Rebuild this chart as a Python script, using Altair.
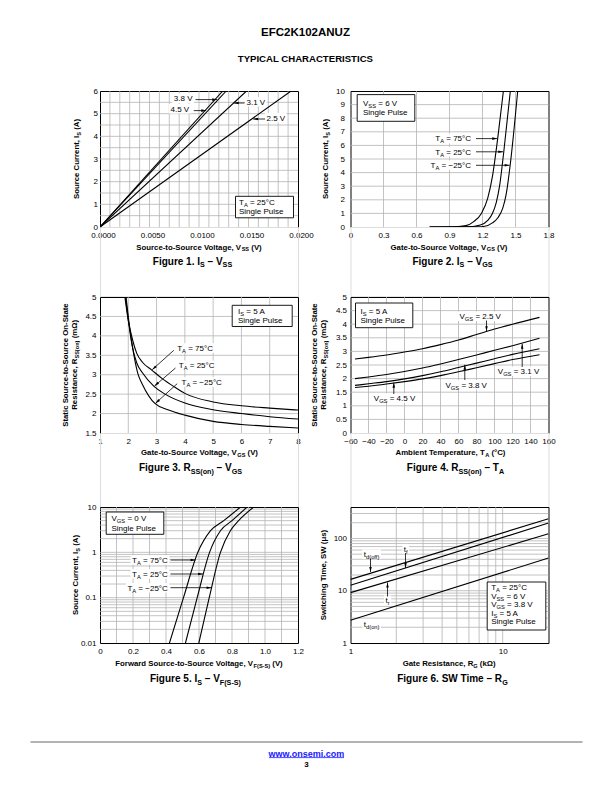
import math
import altair as alt
import pandas as pd

FONT = "Liberation Sans"
PW, PH = 198, 136
GRID = "#b4b4b4"

# ---------------- Figure 1: I_S vs V_SS ----------------
F1_IS = [0.0, 6.0]
F1_VSS_45 = [0.0, 0.0124]
F1_VSS_38 = [0.0, 0.01275]
F1_VSS_31 = [0.0, 0.0148]
F1_VSS_25 = [0.0, 0.0193]
F1_XTICKS = [0, 0.005, 0.01, 0.015, 0.02]
F1_YTICKS = [0, 1, 2, 3, 4, 5, 6]
F1_XGRID = [0.001, 0.002, 0.003, 0.004, 0.005, 0.006, 0.007, 0.008, 0.009, 0.010,
            0.011, 0.012, 0.013, 0.014, 0.015, 0.016, 0.017, 0.018, 0.019]
F1_YGRID = [0.5, 1, 1.5, 2, 2.5, 3, 3.5, 4, 4.5, 5, 5.5]

# ---------------- Figure 2: I_S vs V_GS ----------------
F2_V_75 = [0.72, 0.95, 1.05, 1.12, 1.19, 1.247, 1.292, 1.338, 1.39]
F2_I_75 = [0.0, 0.02, 0.1, 0.4, 1.0, 2.1, 3.8, 6.5, 10.0]
F2_V_25 = [0.72, 1.05, 1.18, 1.25, 1.29, 1.325, 1.355, 1.393, 1.453]
F2_I_25 = [0.0, 0.01, 0.15, 0.5, 1.0, 1.8, 3.0, 5.5, 10.0]
F2_V_M25 = [0.72, 1.15, 1.22, 1.29, 1.338, 1.385, 1.415, 1.451, 1.52]
F2_I_M25 = [0.0, 0.01, 0.05, 0.3, 0.66, 1.4, 2.4, 4.5, 10.0]
F2_XTICKS = [0, 0.3, 0.6, 0.9, 1.2, 1.5, 1.8]
F2_YTICKS = [0, 1, 2, 3, 4, 5, 6, 7, 8, 9, 10]
F2_XGRID = [0.3, 0.6, 0.9, 1.2, 1.5]
F2_YGRID = [1, 2, 3, 4, 5, 6, 7, 8, 9]

# ---------------- Figure 3: R_SS(on) vs V_GS ----------------
F3_V_75 = [1.88, 2.0, 2.15, 2.3, 2.5, 2.83, 3.2, 3.6, 4.0, 5.0, 6.0, 7.0, 8.0]
F3_R_75 = [5.0, 4.4, 3.9, 3.55, 3.32, 3.12, 2.9, 2.7, 2.52, 2.3, 2.2, 2.14, 2.09]
F3_V_25 = [1.9, 2.02, 2.15, 2.3, 2.5, 2.91, 3.3, 4.0, 5.0, 6.0, 7.0, 8.0]
F3_R_25 = [5.0, 4.3, 3.7, 3.3, 3.05, 2.70, 2.5, 2.27, 2.1, 2.0, 1.92, 1.86]
F3_V_M25 = [1.92, 2.05, 2.2, 2.35, 2.5, 2.94, 3.4, 4.0, 5.0, 6.0, 7.0, 8.0]
F3_R_M25 = [5.0, 4.2, 3.5, 3.0, 2.75, 2.26, 2.1, 1.96, 1.8, 1.72, 1.67, 1.63]
F3_XTICKS = [1, 2, 3, 4, 5, 6, 7, 8]
F3_YTICKS = [1.5, 2, 2.5, 3, 3.5, 4, 4.5, 5]
F3_XGRID = [2, 3, 4, 5, 6, 7]
F3_YGRID = [2, 2.5, 3, 3.5, 4, 4.5]

# ---------------- Figure 4: R_SS(on) vs T_A ----------------
F4_TA = [-55, -40, -20, 0, 20, 40, 60, 80, 100, 120, 150]
F4_R_25 = [2.72, 2.78, 2.87, 2.98, 3.10, 3.25, 3.42, 3.62, 3.82, 4.00, 4.25]
F4_R_31 = [2.00, 2.06, 2.15, 2.26, 2.39, 2.54, 2.70, 2.87, 3.04, 3.21, 3.48]
F4_R_38 = [1.75, 1.81, 1.89, 1.99, 2.11, 2.25, 2.41, 2.57, 2.73, 2.89, 3.10]
F4_R_45 = [1.67, 1.72, 1.80, 1.89, 1.99, 2.11, 2.25, 2.40, 2.55, 2.70, 2.88]
F4_XTICKS = [-60, -40, -20, 0, 20, 40, 60, 80, 100, 120, 140, 160]
F4_YTICKS = [0, 0.5, 1, 1.5, 2, 2.5, 3, 3.5, 4, 4.5, 5]
F4_XGRID = [-40, -20, 0, 20, 40, 60, 80, 100, 120, 140]
F4_YGRID = [0.5, 1, 1.5, 2, 2.5, 3, 3.5, 4, 4.5]

# ---------------- Figure 5: I_S vs V_F(S-S) ----------------
F5_I = [0.01, 0.1, 1.0, 3.0, 5.0, 10.0]
F5_V_75 = [0.421, 0.506, 0.593, 0.67, 0.75, 0.852]
F5_V_25 = [0.518, 0.589, 0.664, 0.73, 0.80, 0.892]
F5_V_M25 = [0.599, 0.662, 0.73, 0.79, 0.84, 0.932]
F5_XTICKS = [0, 0.2, 0.4, 0.6, 0.8, 1.0, 1.2]
F5_YTICKS = [0.01, 0.1, 1, 10]
F5_XGRID = [0.1, 0.2, 0.3, 0.4, 0.5, 0.6, 0.7, 0.8, 0.9, 1.0, 1.1]
F5_YGRID = [0.02, 0.03, 0.04, 0.05, 0.06, 0.07, 0.08, 0.09, 0.1,
            0.2, 0.3, 0.4, 0.5, 0.6, 0.7, 0.8, 0.9, 1,
            2, 3, 4, 5, 6, 7, 8, 9]

# ---------------- Figure 6: switching time vs R_G ----------------
F6_RG = [1.0, 20.0]
F6_TDOFF = [16.5, 238.0]
F6_TF = [12.7, 197.0]
F6_TR = [9.2, 123.0]
F6_TDON = [2.72, 42.2]
F6_XTICKS = [1, 10]
F6_YTICKS = [1, 10, 100]
F6_XGRID = [2, 3, 4, 5, 6, 7, 8, 9, 10]
F6_YGRID = [2, 3, 4, 5, 6, 7, 8, 9, 10, 20, 30, 40, 50, 60, 70, 80, 90, 100, 200, 300]

# label expressions
PLAIN = "replace('' + datum.value, '-', '−')"
ONE_DEC = "datum.value == 0 ? '0' : format(datum.value, '.1f')"
FOUR_DEC = "format(datum.value, '.4f')"

# ---------------- text metrics (Helvetica / Arial advance widths) ----------------
_UP = "ABCDEFGHIJKLMNOPQRSTUVWXYZ"
_LO = "abcdefghijklmnopqrstuvwxyz"
REG = dict(zip(_UP, [667, 667, 722, 722, 667, 611, 778, 722, 278, 500, 667, 556, 833, 722, 778, 667, 778, 722, 667, 611, 722, 667, 944, 667, 667, 611]))
REG.update(zip(_LO, [556, 556, 500, 556, 556, 278, 556, 556, 222, 222, 500, 222, 833, 556, 556, 556, 556, 333, 500, 278, 556, 500, 722, 500, 500, 500]))
REG.update({" ": 278, ",": 278, "-": 333, ".": 278, "(": 333, ")": 333, "=": 584, "°": 400, "–": 556, "−": 584, "Ω": 768, "μ": 576, ":": 278})
BOLD = dict(zip(_UP, [722, 722, 722, 722, 667, 611, 778, 722, 278, 556, 722, 611, 833, 722, 778, 667, 778, 722, 667, 611, 722, 667, 944, 667, 667, 611]))
BOLD.update(zip(_LO, [556, 611, 556, 611, 556, 333, 611, 611, 278, 278, 556, 278, 889, 611, 611, 611, 611, 389, 556, 333, 611, 556, 778, 556, 556, 500]))
BOLD.update({" ": 278, ",": 278, "-": 333, ".": 278, "(": 333, ")": 333, "=": 584, "°": 400, "–": 556, "−": 584, "Ω": 768, "μ": 611, ":": 333})


def tw(s, size, bold):
    t = BOLD if bold else REG
    return sum(t.get(c, 556) for c in s) * size / 1000.0


def parse(s):
    parts, buf, i = [], "", 0
    while i < len(s):
        if s.startswith("_{", i):
            if buf:
                parts.append((buf, False))
                buf = ""
            j = s.index("}", i)
            parts.append((s[i + 2:j], True))
            i = j + 1
        else:
            buf += s[i]
            i += 1
    if buf:
        parts.append((buf, False))
    return parts


def rich(s, x, y, size, bold, anchor, vertical, color):
    segs, pos = [], 0.0
    for t, sub in parse(s):
        sz = size * 0.72 if sub else size
        stripped = t.lstrip(" ")
        start = pos + tw(t[: len(t) - len(stripped)], sz, bold)
        txt = stripped.rstrip(" ")
        if txt:
            segs.append((txt, start, sz, sub))
        pos += tw(t, sz, bold)
    W = pos
    shift = {"start": 0.0, "middle": -W / 2.0, "end": -W}[anchor]
    rows = []
    for txt, start, sz, sub in segs:
        d = start + shift
        base = 0.35 * size + (0.25 * size if sub else 0.0)
        if vertical:
            rows.append(dict(px=x + base, py=y - d, text=txt, size=sz, angle=270, color=color, bold=bold))
        else:
            rows.append(dict(px=x + d, py=y + base, text=txt, size=sz, angle=0, color=color, bold=bold))
    return rows, W, shift


# ---------------- annotation helpers (page coordinates) ----------------
def T(s, x, y, size=8, bold=False, anchor="start", bg=False, color="black"):
    return dict(k="text", s=s, x=x, y=y, size=size, bold=bold, anchor=anchor, v=False, bg=bg, color=color)


def V(s, x, y, size=7.8):
    return dict(k="text", s=s, x=x, y=y, size=size, bold=True, anchor="middle", v=True, bg=False, color="black")


def BOX(x1, y1, x2, y2):
    return dict(k="box", c=(x1, y1, x2, y2))


def ARR(x0, y0, x1, y1):
    return dict(k="arrow", c=(x0, y0, x1, y1))


def LINE(x0, y0, x1, y1, color, w):
    return dict(k="line", c=(x0, y0, x1, y1), color=color, w=w)


def ANCHOR(x, y):
    return dict(k="anchor", c=(x, y))


HEAD = "M0,0L-0.85,3.3L0.85,3.3Z"


def pxx(f):
    return alt.X(f, scale=None, axis=None)


def pxy(f):
    return alt.Y(f, scale=None, axis=None)


def axis(values, pad, expr=PLAIN, offset=0):
    return alt.Axis(values=values, title=None, grid=False, ticks=False, tickSize=0, domain=False,
                    labelFont=FONT, labelFontSize=8, labelColor="black", labelPadding=pad,
                    labelFlush=False, labelOverlap=False, labelExpr=expr, labelOffset=offset)


def curves(series):
    rows = []
    for name, xs, ys in series:
        for a, b in zip(xs, ys):
            rows.append({"x": a, "y": b, "s": name})
    return pd.DataFrame(rows)


def panel(origin, df, xsc, ysc, xax, yax, xgrid, ygrid, items, interp="linear"):
    ox, oy = origin
    texts, bgs, boxes, arrows, heads, lines = [], [], [], [], [], []
    for it in items:
        k = it["k"]
        if k == "text":
            rows, W, shift = rich(it["s"], it["x"], it["y"], it["size"], it["bold"], it["anchor"], it["v"], it["color"])
            texts += rows
            if it["bg"]:
                bgs.append(dict(x1=it["x"] + shift - 1.5, x2=it["x"] + shift + W + 1.5,
                                y1=it["y"] - 0.6 * it["size"], y2=it["y"] + 0.6 * it["size"]))
        elif k == "box":
            x1, y1, x2, y2 = it["c"]
            boxes.append(dict(x1=x1, y1=y1, x2=x2, y2=y2))
        elif k == "anchor":
            x, y = it["c"]
            bgs.append(dict(x1=x, y1=y, x2=x + 0.5, y2=y + 0.5))
        elif k == "arrow":
            x0, y0, x1, y1 = it["c"]
            arrows.append(dict(x1=x0, y1=y0, x2=x1, y2=y1))
            ang = math.degrees(math.atan2(x1 - x0, -(y1 - y0))) % 360
            heads.append(dict(px=x1, py=y1, ang=ang))
        elif k == "line":
            x0, y0, x1, y1 = it["c"]
            lines.append(dict(x1=x0, y1=y0, x2=x1, y2=y1, color=it["color"], w=it["w"]))

    def rel(recs, xk, yk):
        out = []
        for r in recs:
            r = dict(r)
            for a in xk:
                r[a] = r[a] - ox
            for b in yk:
                r[b] = r[b] - oy
            out.append(r)
        return pd.DataFrame(out)

    layers = [
        alt.Chart(pd.DataFrame({"g": xgrid})).mark_rule(color=GRID, strokeWidth=0.8).encode(
            x=alt.X("g:Q", scale=xsc, axis=xax)),
        alt.Chart(pd.DataFrame({"g": ygrid})).mark_rule(color=GRID, strokeWidth=0.8).encode(
            y=alt.Y("g:Q", scale=ysc, axis=yax)),
    ]
    if bgs:
        layers.append(alt.Chart(rel(bgs, ["x1", "x2"], ["y1", "y2"])).mark_rect(color="white").encode(
            x=pxx("x1:Q"), x2="x2:Q", y=pxy("y1:Q"), y2="y2:Q"))
    layers.append(alt.Chart(df).mark_line(color="black", strokeWidth=1.1, clip=True, interpolate=interp).encode(
        x=alt.X("x:Q", scale=xsc, axis=xax), y=alt.Y("y:Q", scale=ysc, axis=yax), detail="s:N"))
    if boxes:
        layers.append(alt.Chart(rel(boxes, ["x1", "x2"], ["y1", "y2"])).mark_rect(
            fill="white", stroke="black", strokeWidth=0.9).encode(
            x=pxx("x1:Q"), x2="x2:Q", y=pxy("y1:Q"), y2="y2:Q"))
    if lines:
        layers.append(alt.Chart(rel(lines, ["x1", "x2"], ["y1", "y2"])).mark_rule().encode(
            x=pxx("x1:Q"), x2="x2:Q", y=pxy("y1:Q"), y2="y2:Q",
            color=alt.Color("color:N", scale=None, legend=None),
            strokeWidth=alt.StrokeWidth("w:Q", scale=None, legend=None)))
    if arrows:
        layers.append(alt.Chart(rel(arrows, ["x1", "x2"], ["y1", "y2"])).mark_rule(
            color="black", strokeWidth=0.8).encode(
            x=pxx("x1:Q"), x2="x2:Q", y=pxy("y1:Q"), y2="y2:Q"))
        layers.append(alt.Chart(rel(heads, ["px"], ["py"])).mark_point(
            shape=HEAD, filled=True, color="black", size=9, strokeWidth=0, opacity=1).encode(
            x=pxx("px:Q"), y=pxy("py:Q"), angle=alt.Angle("ang:Q", scale=None, legend=None)))
    tdf = rel(texts, ["px"], ["py"])
    for wt in (True, False):
        sub = tdf[tdf["bold"] == wt].drop(columns=["bold"])
        if len(sub):
            layers.append(alt.Chart(sub).mark_text(
                align="left", baseline="alphabetic", font=FONT, fontWeight="bold" if wt else "normal").encode(
                x=pxx("px:Q"), y=pxy("py:Q"), text="text:N",
                size=alt.Size("size:Q", scale=None, legend=None),
                angle=alt.Angle("angle:Q", scale=None, legend=None),
                color=alt.Color("color:N", scale=None, legend=None)))
    return alt.layer(*layers).properties(
        width=PW, height=PH, view=alt.ViewBackground(stroke="black", strokeWidth=1))


def lin(dom):
    return alt.Scale(domain=dom, nice=False, zero=False)


def logs(dom):
    return alt.Scale(type="log", domain=dom, nice=False)


# ---------------- panels ----------------
O1, O2 = (99.5, 89.7), (350.0, 89.7)
O3, O4 = (99.5, 295.0), (350.0, 295.0)
O5, O6 = (99.5, 505.0), (350.0, 505.0)

p1 = panel(O1, curves([("4.5", F1_VSS_45, F1_IS), ("3.8", F1_VSS_38, F1_IS),
                       ("3.1", F1_VSS_31, F1_IS), ("2.5", F1_VSS_25, F1_IS)]),
           lin([0, 0.02]), lin([0, 6]), axis(F1_XTICKS, 4.5, FOUR_DEC, offset=3), axis(F1_YTICKS, 2.5),
           F1_XGRID, F1_YGRID, [
               ANCHOR(8, 8),
               T("EFC2K102ANUZ", 305, 30.8, 11.5, True, "middle"),
               T("TYPICAL CHARACTERISTICS", 305, 57, 9.6, True, "middle"),
               V("Source Current, I_{S} (A)", 75.8, 157.7),
               T("Source-to-Source Voltage, V_{SS} (V)", 198.5, 245.5, 7.8, True, "middle"),
               T("Figure 1. I_{S} – V_{SS}", 192, 260, 10, True, "middle"),
               BOX(235, 195, 293, 216.5),
               T("T_{A} = 25°C", 238.5, 201.3),
               T("Single Pulse", 238.5, 210.3),
               T("3.8 V", 173.3, 97, bg=True), ARR(195, 98.3, 216.7, 98.3),
               T("4.5 V", 170, 107.5, bg=True), ARR(193.3, 109.3, 205.7, 109.3),
               T("3.1 V", 246, 100.5, bg=True), ARR(244, 101.7, 233.3, 101.7),
               T("2.5 V", 266, 116.5, bg=True), ARR(264.5, 117.7, 252.7, 117.7),
           ])

p2 = panel(O2, curves([("75", F2_V_75, F2_I_75), ("25", F2_V_25, F2_I_25), ("-25", F2_V_M25, F2_I_M25)]),
           lin([0, 1.8]), lin([0, 10]), axis(F2_XTICKS, 4, ONE_DEC), axis(F2_YTICKS, 6),
           F2_XGRID, F2_YGRID, [
               V("Source Current, I_{S} (A)", 325, 157.7),
               T("Gate-to-Source Voltage, V_{GS} (V)", 448.5, 245.5, 7.8, True, "middle"),
               T("Figure 2. I_{S} – V_{GS}", 452, 260, 10, True, "middle"),
               BOX(356.7, 93.3, 414.3, 120),
               T("V_{SS} = 6 V", 362.5, 101.7),
               T("Single Pulse", 362.5, 111.3),
               T("T_{A} = 75°C", 470.5, 137.3, anchor="end", bg=True), ARR(475.5, 137.3, 496.7, 137.3),
               T("T_{A} = 25°C", 470.5, 150.5, anchor="end", bg=True), ARR(475.5, 150.5, 502.7, 150.5),
               T("T_{A} = −25°C", 470.5, 164, anchor="end", bg=True), ARR(475.5, 164, 509.1, 164),
           ], interp="monotone")

p3 = panel(O3, curves([("75", F3_V_75, F3_R_75), ("25", F3_V_25, F3_R_25), ("-25", F3_V_M25, F3_R_M25)]),
           lin([1, 8]), lin([1.5, 5]), axis(F3_XTICKS, 4), axis(F3_YTICKS, 4),
           F3_XGRID, F3_YGRID, [
               V("Static Source-to-Source On-State", 64.5, 363),
               V("Resistance, R_{SS(on)} (mΩ)", 73.5, 363),
               T("Gate-to-Source Voltage, V_{GS} (V)", 199, 450.5, 7.8, True, "middle"),
               T("Figure 3. R_{SS(on)} – V_{GS}", 190, 465.5, 10, True, "middle"),
               BOX(231.7, 303.3, 291.7, 324.5),
               T("I_{S} = 5 A", 237.5, 309.5),
               T("Single Pulse", 237.5, 318.5),
               T("T_{A} = 75°C", 176.7, 346, bg=True), ARR(173.3, 348.3, 151.7, 367.7),
               T("T_{A} = 25°C", 178.3, 363.3, bg=True), ARR(175, 366, 154, 384),
               T("T_{A} = −25°C", 181, 380, bg=True), ARR(176.7, 381.7, 155, 401.3),
           ], interp="monotone")

p4 = panel(O4, curves([("2.5", F4_TA, F4_R_25), ("3.1", F4_TA, F4_R_31),
                       ("3.8", F4_TA, F4_R_38), ("4.5", F4_TA, F4_R_45)]),
           lin([-60, 160]), lin([0, 5]), axis(F4_XTICKS, 4), axis(F4_YTICKS, 4),
           F4_XGRID, F4_YGRID, [
               V("Static Source-to-Source On-State", 313.5, 363),
               V("Resistance, R_{SS(on)} (mΩ)", 322.5, 363),
               T("Ambient Temperature, T_{A} (°C)", 450, 450.5, 7.8, True, "middle"),
               T("Figure 4. R_{SS(on)} – T_{A}", 455, 465.5, 10, True, "middle"),
               BOX(355, 301, 412.3, 325.7),
               T("I_{S} = 5 A", 360, 309),
               T("Single Pulse", 360, 318.3),
               T("V_{GS} = 2.5 V", 459, 314.3, bg=True), ARR(486, 318.5, 486, 329.3),
               T("V_{GS} = 3.1 V", 497.3, 369.3, bg=True), ARR(521.7, 365, 521.7, 341.7),
               T("V_{GS} = 3.8 V", 445, 382.7, bg=True), ARR(464.3, 378, 464.3, 362.7),
               T("V_{GS} = 4.5 V", 373.3, 396, bg=True), ARR(393.3, 392, 393.3, 380.7),
           ], interp="monotone")

p5 = panel(O5, curves([("75", F5_V_75, F5_I), ("25", F5_V_25, F5_I), ("-25", F5_V_M25, F5_I)]),
           lin([0, 1.2]), logs([0.01, 10]), axis(F5_XTICKS, 4, ONE_DEC), axis(F5_YTICKS, 4),
           F5_XGRID, F5_YGRID, [
               V("Source Current, I_{S} (A)", 75, 573),
               T("Forward Source-to-Source Voltage, V_{F(S-S)} (V)", 198.5, 661.7, 7.8, True, "middle"),
               T("Figure 5. I_{S} – V_{F(S-S)}", 195, 676.7, 10, True, "middle"),
               BOX(105.7, 510, 163.3, 532.3),
               T("V_{GS} = 0 V", 111, 516.6),
               T("Single Pulse", 111, 526.2),
               T("T_{A} = 75°C", 167.3, 558, anchor="end", bg=True), ARR(170, 558, 195, 558),
               T("T_{A} = 25°C", 167.3, 572, anchor="end", bg=True), ARR(170, 572, 202.5, 572),
               T("T_{A} = −25°C", 167.3, 585.7, anchor="end", bg=True), ARR(170, 585.7, 211, 585.7),
               LINE(30, 740, 582, 740, "#b3b3b3", 2),
               T("www.onsemi.com", 306, 751.7, 9, True, "middle", color="#1a1aff"),
               LINE(268.5, 755.6, 343.5, 755.6, "#1a1aff", 0.8),
               T("3", 306, 762.5, 8, True, "middle"),
           ], interp="monotone")

p6 = panel(O6, curves([("tdoff", F6_RG, F6_TDOFF), ("tf", F6_RG, F6_TF),
                       ("tr", F6_RG, F6_TR), ("tdon", F6_RG, F6_TDON)]),
           logs([1, 20]), logs([1, 400]), axis(F6_XTICKS, 4), axis(F6_YTICKS, 4),
           F6_XGRID, F6_YGRID, [
               V("Switching Time, SW (μs)", 322.7, 573),
               T("Gate Resistance, R_{G} (kΩ)", 448.5, 661.7, 7.8, True, "middle"),
               T("Figure 6. SW Time – R_{G}", 452, 676.7, 10, True, "middle"),
               BOX(486.7, 580, 545.3, 628),
               T("T_{A} = 25°C", 490.7, 585.5),
               T("V_{SS} = 6 V", 490.7, 594),
               T("V_{GS} = 3.8 V", 490.7, 602.5),
               T("I_{S} = 5 A", 490.7, 611),
               T("Single Pulse", 490.7, 619.5),
               T("t_{d(off)}", 363.3, 552.3, bg=True), ARR(370, 556.5, 370, 570),
               T("t_{f}", 403.3, 546.7, bg=True), ARR(405, 551, 405, 566),
               T("t_{r}", 385, 598.3, bg=True), ARR(387, 594.5, 387, 580.5),
               T("t_{d(on)}", 363.3, 622.3, bg=True),
           ])


def gap(h):
    return alt.Chart(pd.DataFrame({"a": [0]})).mark_text(text="").encode(
        x=alt.value(PW / 2), y=alt.value(h / 2)).properties(width=PW, height=h)


chart = alt.concat(
    p1, p2, gap(69.3), gap(69.3), p3, p4, gap(74), gap(74), p5, p6,
    columns=2, spacing={"row": 0, "column": 52.5}, bounds="flush",
).properties(padding=0).configure_view(strokeWidth=0).configure(font=FONT)

chart.save("out.html", embed_options={"renderer": "svg", "actions": False})
